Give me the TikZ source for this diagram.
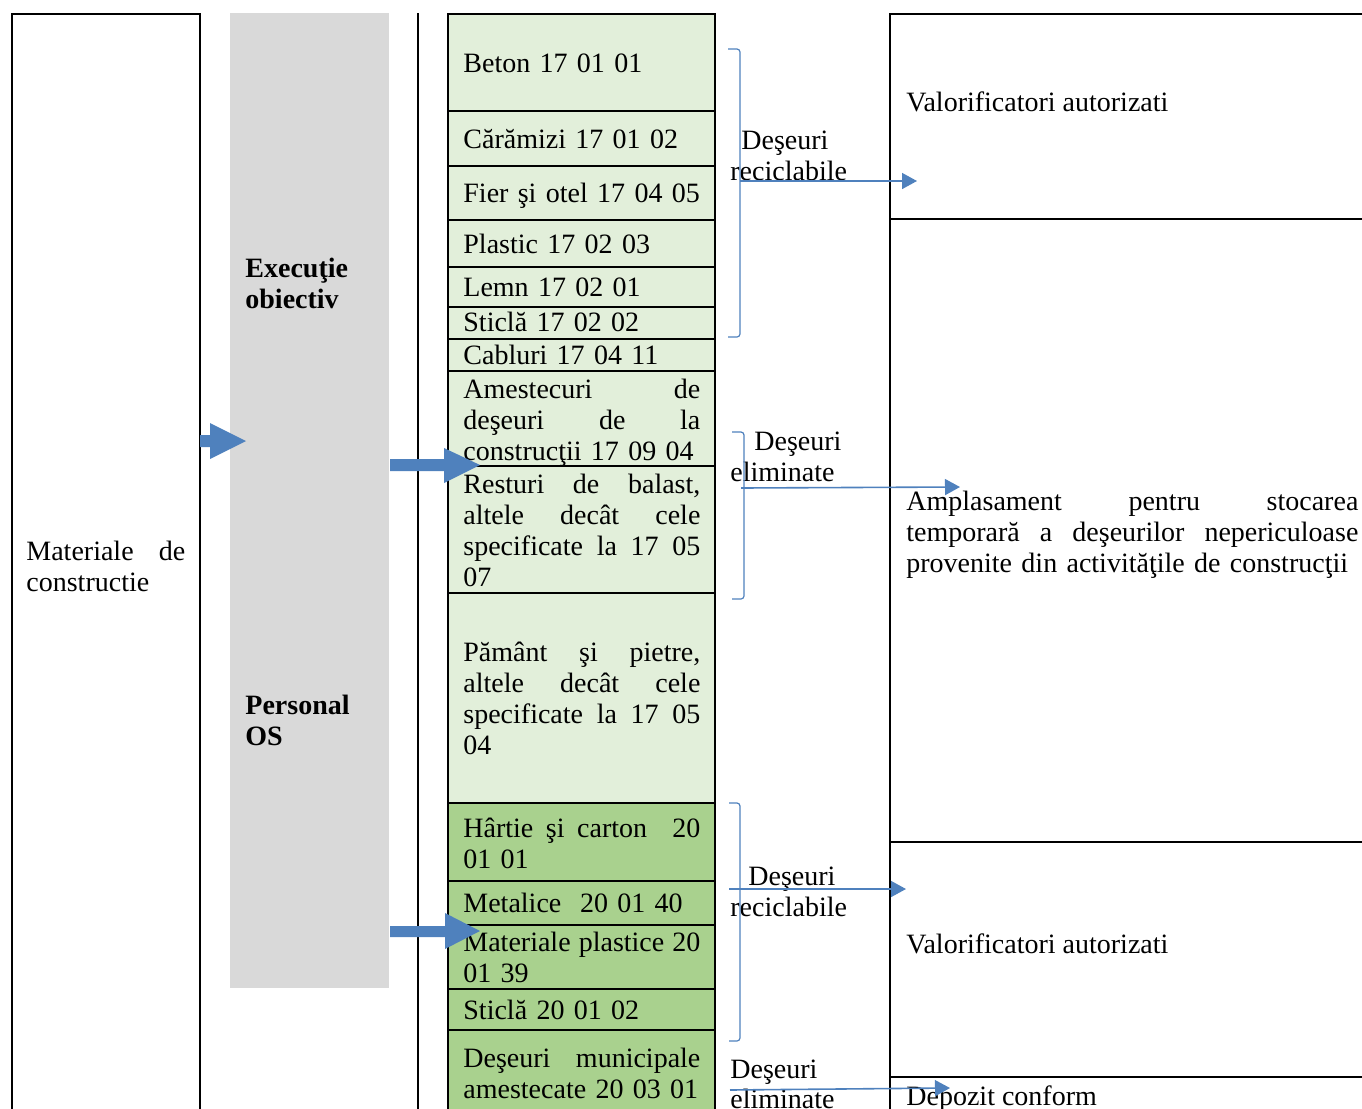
\documentclass[tikz,border=0pt]{standalone}
\usepackage{fontspec}
\setmainfont{Liberation Serif}
\usetikzlibrary{arrows.meta}
\definecolor{lightgreen}{HTML}{E2EFDA}
\definecolor{darkgreen}{HTML}{A9D18E}
\definecolor{panelgray}{HTML}{D9D9D9}
\definecolor{flowblue}{HTML}{4F81BD}
\newcommand{\jline}[1]{\makebox[\linewidth][s]{\spaceskip=0.25em plus 1fil\relax #1}}

\begin{document}
\begin{tikzpicture}[x=0.5pt,y=-0.5pt,
  txt/.style={inner sep=0pt, anchor=base west, font=\fontsize{14}{15.5}\selectfont},
  cell/.style={txt, text width=118.5pt, align=left},
  wall/.style={line width=1pt},
  flow/.style={flowblue, line width=0.8pt, -{Triangle[length=7.5pt,width=8pt]}},
  bracket/.style={flowblue, line width=0.6pt, rounded corners=1.5pt},
  blockarrow/.style={fill=flowblue}]
  \useasboundingbox (0,0) rectangle (1362,1109);
  \fill[panelgray] (230,13) rectangle (389,988);
  \fill[lightgreen] (448,14) rectangle (715,803);
  \fill[darkgreen] (448,803) rectangle (715,1109);
  \draw[wall] (12,1109) -- (12,14) -- (200,14) -- (200,1109);
  \draw[wall] (418,13) -- (418,1109);
  \draw[wall] (448,1109) -- (448,14) -- (715,14) -- (715,1109);
  \foreach \y in {111,166,220,267,307,339,371,466,593,803,881,925,989,1030}
    \draw[wall] (448,\y) -- (715,\y);
  \draw[wall] (1362,14) -- (890,14) -- (890,1109);
  \foreach \y in {219,842,1077}
    \draw[wall] (890,\y) -- (1362,\y);

  \node[txt, text width=79.5pt, align=left] (materiale) at (26,560)
    {\jline{Materiale de}\\constructie};
  \node[txt, text width=70pt, font=\fontsize{14}{15.5}\selectfont\bfseries, align=left] (executie) at (245,277)
    {Execuţie\\obiectiv};
  \node[txt, text width=70pt, font=\fontsize{14}{15.5}\selectfont\bfseries, align=left] (personal) at (245,714)
    {Personal\\OS};

  \node[cell] (beton) at (463,72) {Beton 17 01 01};
  \node[cell] (caramizi) at (463,148) {Cărămizi 17 01 02};
  \node[cell] (fier) at (463,202) {Fier şi otel 17 04 05};
  \node[cell] (plastic) at (463,253) {Plastic 17 02 03};
  \node[cell] (lemn) at (463,296) {Lemn 17 02 01};
  \node[cell] (sticla) at (463,331) {Sticlă 17 02 02};
  \node[cell] (cabluri) at (463,364) {Cabluri 17 04 11};
  \node[cell] (amestecuri) at (463,398)
    {\jline{Amestecuri de}\\\jline{deşeuri de la}\\construcţii 17 09 04};
  \node[cell] (resturi) at (463,493)
    {\jline{Resturi de balast,}\\\jline{altele decât cele}\\\jline{specificate la 17 05}\\07};
  \node[cell] (pamant) at (463,661)
    {\jline{Pământ şi pietre,}\\\jline{altele decât cele}\\\jline{specificate la 17 05}\\04};
  \node[cell] (hartie) at (463,837) {\jline{Hârtie şi carton~ 20}\\01 01};
  \node[cell] (metalice) at (463,912) {Metalice~ 20 01 40};
  \node[cell] (plastice) at (463,951) {\jline{Materiale plastice 20}\\01 39};
  \node[cell] (sticlamun) at (463,1019) {Sticlă 20 01 02};
  \node[cell] (municipale) at (463,1067) {\jline{Deşeuri municipale}\\amestecate 20 03 01};

  \node[txt] (recsus) at (741,149) {Deşeuri};
  \node[txt] (recsus2) at (730,180) {reciclabile};
  \node[txt] (elimsus) at (754,450) {Deşeuri};
  \node[txt] (elimsus2) at (730,481) {eliminate};
  \node[txt] (recjos) at (748,885) {Deşeuri};
  \node[txt] (recjos2) at (730,916) {reciclabile};
  \node[txt] (elimjos) at (730,1078) {Deşeuri};
  \node[txt] (elimjos2) at (730,1108) {eliminate};

  \node[txt] (valsus) at (906,111) {Valorificatori autorizati};
  \node[txt, text width=226pt, align=left] (amplasament) at (906,510)
    {\jline{Amplasament pentru stocarea}\\\jline{temporară a deşeurilor nepericuloase}\\provenite din activităţile de construcţii};
  \node[txt] (valjos) at (906,953) {Valorificatori autorizati};
  \node[txt] (depozit) at (906,1105) {Depozit conform};

  \fill[blockarrow] (200,435) -- (210,435) -- (210,423) -- (246,441) -- (210,459) -- (210,447) -- (200,447) -- cycle;
  \fill[blockarrow] (390,459) -- (444,459) -- (444,448) -- (480,465) -- (444,483) -- (444,471) -- (390,471) -- cycle;
  \fill[blockarrow] (390,926) -- (445,926) -- (445,913) -- (480,931) -- (445,949) -- (445,937) -- (390,937) -- cycle;

  \draw[bracket] (728,49) -- (740,49) -- (740,337) -- (728,337);
  \draw[bracket] (732,432) -- (744,432) -- (744,599) -- (732,599);
  \draw[bracket] (729,803) -- (740,803) -- (740,1041) -- (729,1041);

  \coordinate (recA) at (740,181);
  \coordinate (valA) at (917,181);
  \coordinate (elimA) at (741,488);
  \coordinate (ampA) at (960,487);
  \coordinate (recB) at (729,889);
  \coordinate (valB) at (906,889);
  \coordinate (elimB) at (730,1090);
  \coordinate (depB) at (950,1088);
  \draw[flow] (recA) -- (valA);
  \draw[flow] (elimA) -- (ampA);
  \draw[flow] (recB) -- (valB);
  \draw[flow] (elimB) -- (depB);
\end{tikzpicture}
\end{document}
